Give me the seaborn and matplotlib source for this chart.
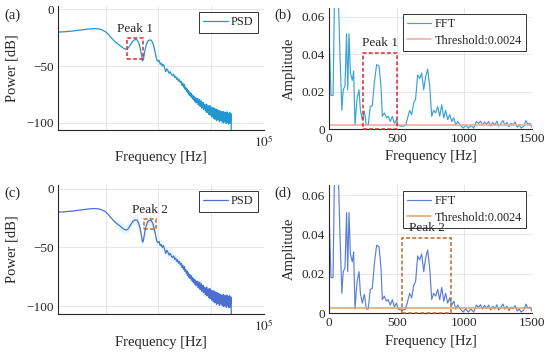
# plot.py
# PSD / FFT comparison, 4 panels (a)-(d)

import numpy as np
import matplotlib
matplotlib.use('Agg')
import matplotlib.pyplot as plt
from matplotlib.patches import Rectangle
from matplotlib.ticker import FuncFormatter
import seaborn as sns

# ---- data -----------------------------------------------------------------
psd_freq = [12.5, 16, 20, 25, 30, 36, 45, 54, 62, 72, 84, 100, 115, 130, 150,
            170, 195, 220, 245, 270, 300, 330, 360, 390, 420, 450, 480, 500,
            520, 550, 590, 630, 680, 730, 780, 830, 880, 930, 980, 1030, 1080,
            1130, 1180, 1240, 1300, 1370, 1440, 1510, 1590, 1670, 1760, 1850,
            1940, 2030, 2120, 2210, 2300, 2400, 2500, 2600, 2700, 2800, 2900,
            3000, 3100, 3200, 3300, 3400, 3500, 3600, 3700, 3800, 3900, 4000,
            4120, 4240, 4360, 4480, 4600, 4720, 4840, 4960, 5080, 5200, 5320,
            5440, 5560, 5680, 5800, 5920, 6040, 6160, 6280, 6400, 6520, 6640,
            6760, 6880, 7000, 7150, 7300, 7450, 7600, 7750, 7900, 8050, 8200,
            8350, 8500, 8650, 8800, 8950, 9100, 9250, 9400, 9550, 9700, 9850,
            10000, 10200, 10400, 10600, 10800, 11000, 11200, 11400, 11600,
            11800, 12000, 12200, 12400, 12600, 12800, 13000, 13200, 13400,
            13600, 13800, 14000, 14250, 14500, 14750, 15000, 15250, 15500,
            15750, 16000, 16250, 16500, 16750, 17000, 17250, 17500, 17750,
            18000, 18250, 18500, 18750, 19000, 19250, 19500, 19750, 20000,
            20300, 20600, 20900, 21200, 21500, 21800, 22100, 22400, 22700,
            23000, 23300, 23600, 23900, 24000]
psd_db = [-20, -19.8, -19.4, -19, -18.5, -18, -17.5, -17.1, -17, -17.2, -18,
          -19.8, -22.5, -25.5, -28.5, -30.5, -32.5, -34.5, -35.3, -34, -30.5,
          -27.8, -26.6, -26.7, -29, -34, -41, -45.5, -44, -37, -31, -28, -27,
          -27.2, -29.5, -34, -39.5, -44.5, -46, -45, -48.5, -47.5, -50, -48.5,
          -51, -55, -52.5, -54, -56.5, -55, -57.5, -58.5,
          -57.2, -60.1, -59.0, -61.8, -60.5, -63.4, -61.9, -64.8, -63.6, -67.2,
          -65.1, -68.7, -66.4, -70.5, -69.0, -72.3, -70.2, -73.8, -71.6, -75.4,
          -73.0, -76.5, -73.9, -77.8, -75.5, -79.2, -76.4, -80.1, -77.3, -81.5,
          -78.2, -82.6, -79.0, -81.9, -78.8, -84.3, -80.5, -83.1, -79.6, -85.7,
          -81.4, -84.8, -80.9, -87.2, -82.7, -86.0, -82.1, -88.4, -83.6, -87.5,
          -84.0, -89.8, -84.9, -88.6, -83.7, -91.2, -86.1, -89.9, -85.2, -92.6,
          -86.8, -90.7, -84.9, -93.4, -87.9, -91.6, -86.3, -94.8, -88.5, -92.9,
          -86.7, -96.1, -89.3, -93.8, -87.4, -97.0, -90.2, -94.6, -88.1, -98.3,
          -90.9, -95.2, -88.6, -97.4, -91.5, -95.9, -89.3, -99.1, -92.0, -96.4,
          -89.8, -98.2, -92.7, -97.1, -90.4, -99.6, -93.3, -96.8, -90.1, -100.2,
          -93.8, -97.5, -90.7, -99.0, -92.6, -98.3, -91.2, -100.8, -93.9, -97.6,
          -90.5, -99.7, -93.1, -98.9, -91.8, -101.3, -94.2, -97.7, -91.0,
          -100.4, -93.6, -98.0, -92.2, -96.5, -107]

fft_freq = [0, 3, 15, 30, 40, 70, 80, 95, 105, 118, 130, 138, 148, 158, 172,
            182, 192, 207, 222, 232, 246, 261, 276, 290, 305, 320, 335, 352,
            370, 384, 394, 409, 424, 438, 453, 468, 483, 498, 512, 532, 549,
            566, 581, 596, 611, 626, 640, 655, 670, 685, 700, 714, 729, 744,
            759, 773, 788, 803, 818, 833, 848, 862, 877, 892, 907, 922, 936,
            951, 971, 990, 1010, 1030, 1049, 1069, 1089, 1105, 1120, 1135,
            1150, 1165, 1180, 1195, 1210, 1225, 1240, 1255, 1270, 1285, 1300,
            1315, 1330, 1345, 1360, 1375, 1390, 1405, 1420, 1440, 1455, 1470,
            1485, 1500]
fft_amp = [0.0, 0.045, 0.018, 0.018, 0.068, 0.068, 0.042, 0.010, 0.021, 0.023,
           0.051, 0.021, 0.051, 0.030, 0.026, 0.031, 0.002, 0.016, 0.021,
           0.010, 0.005, 0.0095, 0.002, 0.002, 0.012, 0.0125, 0.025, 0.0345,
           0.0336, 0.023, 0.0068, 0.0086, 0.006, 0.0068, 0.004, 0.0068, 0.003,
           0.005, 0.002, 0.0015, 0.0015, 0.002, 0.006, 0.010, 0.0077, 0.014,
           0.016, 0.029, 0.027, 0.030, 0.021, 0.028, 0.032, 0.023, 0.0068,
           0.010, 0.0086, 0.012, 0.0068, 0.013, 0.006, 0.010, 0.005, 0.0077,
           0.004, 0.006, 0.002, 0.004, 0.002, 0.0005, 0.002, 0.0005, 0.002,
           0.0005, 0.004, 0.003, 0.0042, 0.002, 0.0038, 0.0025, 0.004, 0.0015,
           0.0035, 0.002, 0.0042, 0.0015, 0.003, 0.0045, 0.002, 0.0035, 0.0012,
           0.003, 0.0022, 0.0038, 0.001, 0.002, 0.0005, 0.0015, 0.0045, 0.0025,
           0.003, 0.001]

threshold = 0.0024
peak1_hz = (250, 500)
peak2_hz = (540, 900)
peak1_db = (-44, -25)
peak2_db = (-34, -25.5)
peak1_amp = 0.0407
peak2_amp = 0.038

# ---- style ----------------------------------------------------------------
sns.set_style('white')
plt.rcParams['font.family'] = ['Liberation Serif', 'DejaVu Serif']
plt.rcParams['mathtext.fontset'] = 'stix'
plt.rcParams['axes.unicode_minus'] = True

fig = plt.figure(figsize=(5.5, 3.56), dpi=100)
W, H = 550.0, 356.0

def add_ax(left, top, right, bottom):
    return fig.add_axes([left / W, 1 - bottom / H, (right - left) / W, (bottom - top) / H])

ax_a = add_ax(58, 6, 264, 130)
ax_b = add_ax(329, 8, 532, 129)
ax_c = add_ax(58, 185, 264, 314)
ax_d = add_ax(329, 185, 532, 313)

def style_ax(ax):
    for s in ['top', 'right']:
        ax.spines[s].set_visible(False)
    for s in ['left', 'bottom']:
        ax.spines[s].set_color('#262626')
        ax.spines[s].set_linewidth(0.8)
    ax.grid(True, color='#e3e3e3', lw=0.6)
    ax.set_axisbelow(True)
    ax.tick_params(direction='in', length=3, width=0.6, labelsize=9.5,
                   colors='#262626', pad=3)

def legend(ax):
    lg = ax.legend(loc='upper right', fancybox=False, framealpha=1,
                   edgecolor='#333333', fontsize=8.8, handlelength=2.0,
                   borderpad=0.35, labelspacing=0.35, handletextpad=0.25,
                   borderaxespad=0.5)
    lg.get_frame().set_linewidth(0.7)
    lg.set_zorder(5)

# ---- PSD panels -------------------------------------------------------------
def psd_panel(ax, col, box_col, band, box_db, name, shade=None):
    if shade:
        f = np.array(psd_freq)
        d = np.array(psd_db)
        m = f >= 150
        ax.fill_between(f[m], d[m] - 4, d[m] + 4, color=shade, step='mid', lw=0)
    sns.lineplot(x=psd_freq, y=psd_db, ax=ax, color=col, lw=0.9,
                 estimator=None, sort=False, label='PSD')
    ax.set_xscale('log')
    ax.set_xlim(12.5, 1e5)
    ax.set_ylim(-106.5, 3)
    ax.set_xticks([1e2, 1e3, 1e4, 1e5])
    ax.set_xticklabels(['', '', '', r'$10^5$'])
    ax.minorticks_off()
    ax.set_yticks([0, -50, -100])
    style_ax(ax)
    ax.add_patch(Rectangle((band[0], box_db[0]), band[1] - band[0],
                           box_db[1] - box_db[0], fill=False, ec=box_col,
                           ls=(0, (2.5, 1.5)), lw=1.1, zorder=4))
    ax.text((band[0] * band[1]) ** 0.5, box_db[1] + 2, name, ha='center',
            va='bottom', fontsize=9.5, zorder=6)
    ax.set_xlabel('Frequency [Hz]', fontsize=10.5)
    ax.set_ylabel('Power [dB]', fontsize=10.5)
    ax.yaxis.set_label_coords(-0.19, 0.5)
    legend(ax)

psd_panel(ax_a, '#2196cf', '#e5232d', peak1_hz, peak1_db, 'Peak 1')
psd_panel(ax_c, '#4f6fcf', '#b8682c', peak2_hz, peak2_db, 'Peak 2', shade='#e2f8fd')
ax_a.xaxis.set_label_coords(0.5, -0.17)
ax_c.xaxis.set_label_coords(0.5, -0.17)

# ---- FFT panels -------------------------------------------------------------
def fft_panel(ax, col, thr_col, box_col, band, box_top, name, ymax):
    sns.lineplot(x=fft_freq, y=fft_amp, ax=ax, color=col, lw=0.85,
                 estimator=None, sort=False, label='FFT')
    ax.axhline(threshold, color=thr_col, lw=1.1, label='Threshold:0.0024')
    ax.set_xlim(0, 1500)
    ax.set_ylim(0, ymax)
    ax.set_xticks([0, 500, 1000, 1500])
    ax.set_yticks([0, 0.02, 0.04, 0.06])
    ax.yaxis.set_major_formatter(FuncFormatter(lambda v, _: f'{v:g}'))
    style_ax(ax)
    ax.add_patch(Rectangle((band[0], 0), band[1] - band[0], box_top,
                           fill=False, ec=box_col, ls=(0, (2.5, 1.5)),
                           lw=1.1, zorder=4, clip_on=False))
    ax.text((band[0] + band[1]) / 2, box_top + 0.002, name, ha='center',
            va='bottom', fontsize=9.5, zorder=6)
    ax.set_xlabel('Frequency [Hz]', fontsize=10.5)
    ax.set_ylabel('Amplitude', fontsize=10.5)
    ax.yaxis.set_label_coords(-0.165, 0.5)
    ax.xaxis.set_label_coords(0.5, -0.175)
    legend(ax)

fft_panel(ax_b, '#3aa3cf', '#f5a39c', '#e5232d', peak1_hz, peak1_amp, 'Peak 1', 0.0648)
fft_panel(ax_d, '#5b7ed6', '#dca466', '#b8682c', peak2_hz, peak2_amp, 'Peak 2', 0.0651)

# panel labels
for lab, x, y in [('(a)', 12, 15), ('(b)', 283, 15), ('(c)', 12, 193), ('(d)', 283, 193)]:
    fig.text(x / W, 1 - y / H, lab, ha='center', va='center', fontsize=10.5)

fig.savefig('out.png', dpi=100)
